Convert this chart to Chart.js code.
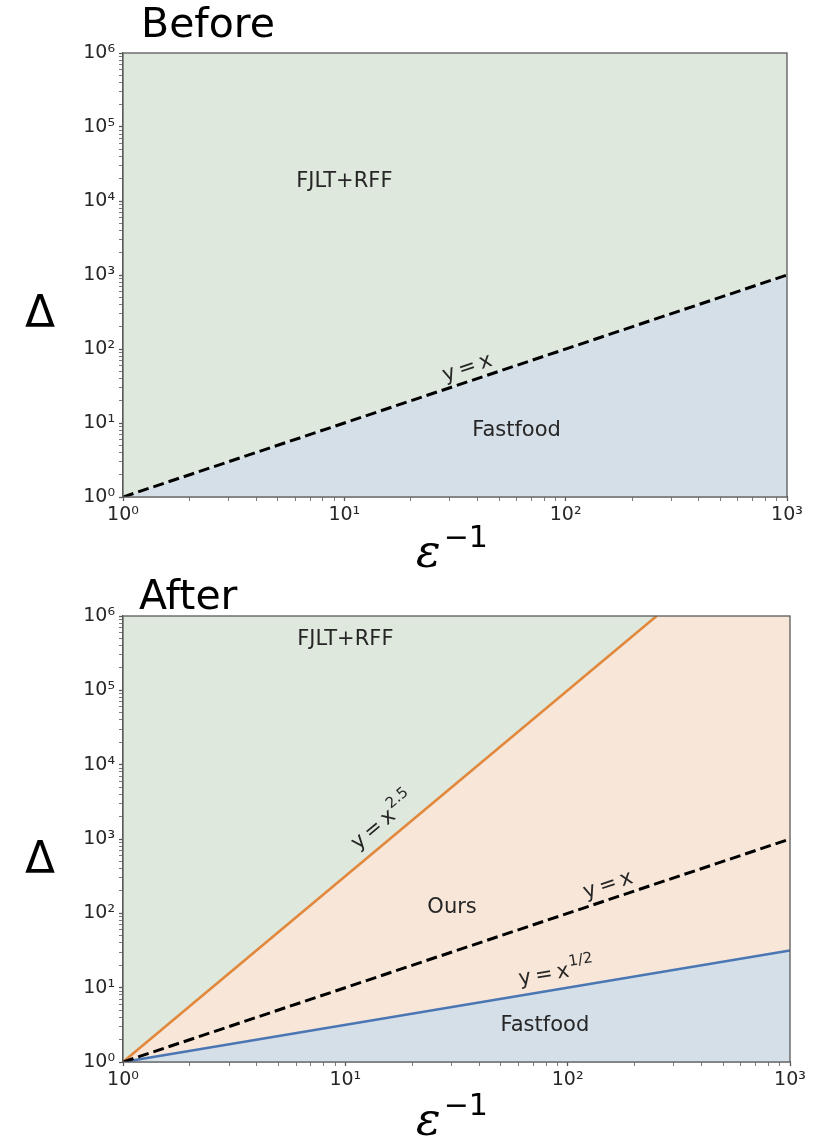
<!DOCTYPE html>
<html><head><meta charset="utf-8">
<script src="https://cdn.jsdelivr.net/npm/chart.js@4/dist/chart.umd.min.js"></script>
<style>
html,body{margin:0;padding:0;background:#fff;width:825px;height:1148px;overflow:hidden;font-family:"DejaVu Sans",sans-serif;}
canvas{position:absolute;left:0;}
.t{position:absolute;line-height:1;white-space:nowrap;color:#000;}
.title{font-size:41px;}
.ylab{font-size:44px;}
.xlab{font-size:30px;}
.xlab .eps{font-family:"DejaVu Serif",serif;font-style:italic;font-size:46px;}
.xlab .sp{position:relative;top:-20px;font-size:30px;margin-left:3px;}
</style>
</head><body>
<canvas id="c1" width="825" height="565" style="top:0px"></canvas>
<canvas id="c2" width="825" height="583" style="top:565px"></canvas>
<div class="t title" style="left:141px;top:3px">Before</div>
<div class="t title" style="left:139px;top:575px">After</div>
<div class="t ylab" style="left:25px;top:290px">Δ</div>
<div class="t ylab" style="left:25px;top:836px">Δ</div>
<div class="t xlab" style="left:416px;top:528px"><span class="eps">ε</span><span class="sp">−1</span></div>
<div class="t xlab" style="left:416px;top:1096px"><span class="eps">ε</span><span class="sp">−1</span></div>
<script>
// ---- data ----
const xRange = [1, 1000];
const yRange = [1, 1000000];
const xMajorTicks = [1, 10, 100, 1000];
const xTickLabels = ['10⁰', '10¹', '10²', '10³'];
const yMajorTicks = [1, 10, 100, 1000, 10000, 100000, 1000000];
const yTickLabels = ['10⁰', '10¹', '10²', '10³', '10⁴', '10⁵', '10⁶'];
// straight lines in log-log space: endpoints
const lineX_x = [1, 1000];
const lineX_y = [1, 1000];          // y = x
const lineSqrt_x = [1, 1000];
const lineSqrt_y = [1, 31.62];      // y = x^(1/2)
const linePow25_x = [1, 251.19];
const linePow25_y = [1, 1000000];   // y = x^2.5
// region / line labels
const regionLabels = ['FJLT+RFF', 'Ours', 'Fastfood'];
const lineLabels = ['y\u2009=\u2009x', 'y\u2009=\u2009x'];

// ---- styles ----
const GREEN_FILL = '#dee8dc';
const BLUE_FILL = '#d5dfe8';
const ORANGE_FILL = '#f8e7d8';
const ORANGE_LINE = '#e2883d';
const BLUE_LINE = '#4a76b3';
const AXIS = '#5a5a5a';
const TEXT = '#262626';

function pts(xs, ys) { return xs.map((x, i) => ({x, y: ys[i]})); }

function axis(min, max, majors, labels, isX) {
  return {
    type: 'logarithmic', min, max,
    afterBuildTicks(s) {
      const t = [];
      majors.forEach(d => { t.push({value: d}); if (d < max) for (let m = 2; m <= 9; m++) t.push({value: d * m}); });
      s.ticks = t;
    },
    ticks: {
      autoSkip: false, maxRotation: 0, minRotation: 0, color: TEXT,
      font: {family: 'DejaVu Sans', size: 19}, padding: isX ? 3 : 4,
      callback(v) { const i = majors.indexOf(v); return i >= 0 ? labels[i] : ''; }
    },
    grid: {drawOnChartArea: false, drawTicks: true, tickLength: 4, tickColor: AXIS,
      tickWidth: c => (c.tick && majors.indexOf(c.tick.value) >= 0) ? 1.3 : 0.8},
    border: {display: true, color: AXIS, width: 1.3},
    afterFit(s) { if (isX) s.height = 65; else s.width = 123; }
  };
}

const textPlugin = {
  id: 'textLabels',
  afterDatasetsDraw(chart, args, opts) {
    const {ctx} = chart; const xs = chart.scales.x, ys = chart.scales.y;
    (opts.items || []).forEach(it => {
      const px = xs.getPixelForValue(it.x), py = ys.getPixelForValue(it.y);
      let ang = 0;
      if (it.slope) {
        const dx = xs.getPixelForValue(10) - xs.getPixelForValue(1);
        const dy = ys.getPixelForValue(1) - ys.getPixelForValue(10);
        ang = -Math.atan(it.slope * dy / dx);
      }
      ctx.save(); ctx.translate(px, py); ctx.rotate(ang);
      const base = '21px "DejaVu Sans"', sup = '15px "DejaVu Sans"';
      ctx.font = base; const w1 = ctx.measureText(it.text).width;
      let w2 = 0; if (it.sup) { ctx.font = sup; w2 = ctx.measureText(it.sup).width; }
      const total = w1 + w2 + (it.sup ? 1 : 0);
      ctx.fillStyle = TEXT; ctx.textBaseline = 'middle'; ctx.textAlign = 'left';
      ctx.font = base; ctx.fillText(it.text, -total / 2, 0);
      if (it.sup) { ctx.font = sup; ctx.fillText(it.sup, -total / 2 + w1 + 1, -9); }
      ctx.restore();
    });
  },
  afterDraw(chart) {
    const {ctx, chartArea: a} = chart;
    ctx.save(); ctx.strokeStyle = AXIS; ctx.lineWidth = 1.3;
    ctx.strokeRect(a.left, a.top, a.right - a.left, a.bottom - a.top);
    ctx.restore();
  }
};

function makeChart(id, datasets, items, pad) {
  return new Chart(document.getElementById(id), {
    type: 'line',
    data: {datasets},
    options: {
      responsive: false, animation: false, devicePixelRatio: 1,
      layout: {padding: pad},
      elements: {line: {tension: 0}, point: {radius: 0}},
      scales: {
        x: axis(xRange[0], xRange[1], xMajorTicks, xTickLabels, true),
        y: axis(yRange[0], yRange[1], yMajorTicks, yTickLabels, false)
      },
      plugins: {legend: {display: false}, tooltip: {enabled: false}, textLabels: {items}}
    },
    plugins: [textPlugin]
  });
}

// Before
makeChart('c1', [
  {data: pts(lineX_x, lineX_y), borderColor: '#000', borderWidth: 3, borderDash: [11, 5],
   fill: 'end', backgroundColor: GREEN_FILL, order: 1},
  {data: pts(lineX_x, lineX_y), borderWidth: 0, borderColor: 'rgba(0,0,0,0)',
   fill: 'start', backgroundColor: BLUE_FILL, order: 2}
], [
  {text: regionLabels[0], x: 10, y: 18600},
  {text: lineLabels[0], x: 36, y: 55, slope: 1},
  {text: regionLabels[2], x: 60, y: 8.0}
], {top: 53, right: 38, bottom: 3, left: 0});

// After
makeChart('c2', [
  {data: pts(lineSqrt_x, lineSqrt_y), borderWidth: 0, borderColor: 'rgba(0,0,0,0)',
   fill: 'end', backgroundColor: ORANGE_FILL, order: 5},
  {data: pts(linePow25_x, linePow25_y), borderColor: ORANGE_LINE, borderWidth: 2.6,
   fill: 'end', backgroundColor: GREEN_FILL, order: 4},
  {data: pts(lineSqrt_x, lineSqrt_y), borderColor: BLUE_LINE, borderWidth: 2.6,
   fill: 'start', backgroundColor: BLUE_FILL, order: 3},
  {data: pts(lineX_x, lineX_y), borderColor: '#000', borderWidth: 3, borderDash: [11, 5],
   fill: false, order: 1}
], [
  {text: regionLabels[0], x: 10, y: 480000},
  {text: 'y\u2009=\u2009x', sup: '2.5', x: 14.8, y: 1700, slope: 2.5},
  {text: regionLabels[1], x: 30.2, y: 118},
  {text: lineLabels[1], x: 152, y: 238, slope: 1},
  {text: 'y\u2009=\u2009x', sup: '1/2', x: 89, y: 15.6, slope: 0.5},
  {text: regionLabels[2], x: 79, y: 3.1}
], {top: 51, right: 35, bottom: 21, left: 0});
</script>
</body></html>
